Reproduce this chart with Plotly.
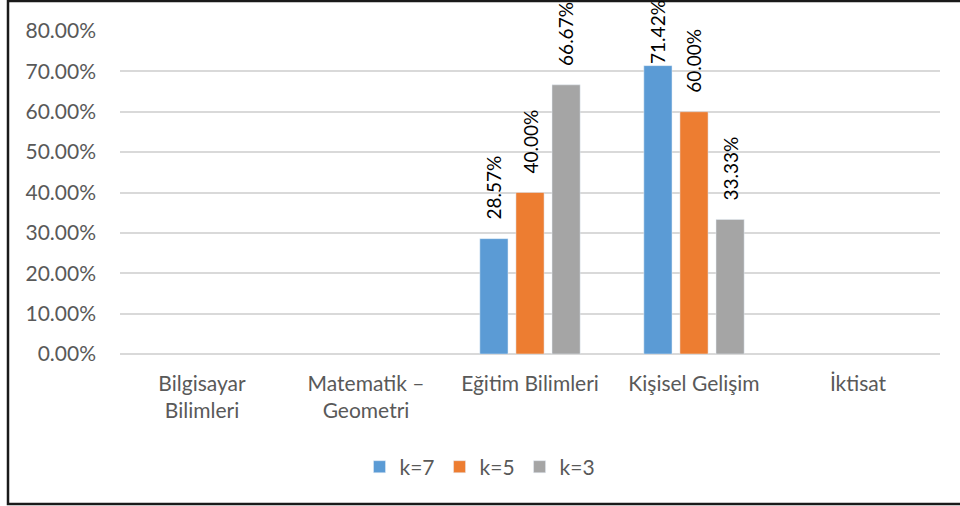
import plotly.graph_objects as go

categories = ["Bilgisayar<br>Bilimleri", "Matematik –<br>Geometri", "Eğitim Bilimleri", "Kişisel Gelişim", "İktisat"]
k7 = [None, None, 0.2857, 0.7142, None]
k5 = [None, None, 0.40, 0.60, None]
k3 = [None, None, 0.6667, 0.3333, None]
series_names = ["k=7", "k=5", "k=3"]
colors = ["#5B9BD5", "#ED7D31", "#A5A5A5"]
tick_vals = [0, 0.1, 0.2, 0.3, 0.4, 0.5, 0.6, 0.7, 0.8]

FONT = "Lato, 'Open Sans', sans-serif"
FS = 21
LFS = 19
W, H = 960, 506
L, R, T, B = 120, 20, 31, 152
pw, ph = W - L - R, H - T - B
YMAX = 0.8
BARGAP, GROUPGAP = 0.34, 0.22
cat_px = pw / len(categories)
slot_px = cat_px * (1 - BARGAP) / 3
label_len = 63  # approx rendered length of a rotated label in px
gap_px = 17

fig = go.Figure()
annotations = []
for i, (name, vals, c) in enumerate(zip(series_names, [k7, k5, k3], colors)):
    fig.add_trace(go.Bar(
        x=categories, y=vals, name=name, marker_color=c,
    ))
    for cat, v in zip(categories, vals):
        if v is None:
            continue
        bar_top = T + ph * (1 - v / YMAX)
        shift = gap_px
        if bar_top - shift - label_len < 3:
            shift = bar_top - label_len - 3
        annotations.append(dict(
            x=cat, y=v, xref="x", yref="y", text=f"{v*100:.2f}%",
            textangle=-90, showarrow=False, xanchor="center", yanchor="bottom",
            xshift=(i - 1) * slot_px, yshift=shift,
            font=dict(family=FONT, size=LFS, color="#000000"),
        ))

fig.update_layout(
    width=W, height=H,
    margin=dict(l=L, r=R, t=T, b=B),
    paper_bgcolor="white", plot_bgcolor="white",
    barmode="group", bargap=BARGAP, bargroupgap=GROUPGAP,
    font=dict(family=FONT, size=FS, color="#595959"),
    showlegend=True,
    legend=dict(orientation="h", x=(W / 2 - L) / pw, xanchor="center", y=-0.35, yanchor="middle",
                font=dict(family=FONT, size=FS, color="#595959"),
                itemwidth=30, traceorder="normal"),
    xaxis=dict(showgrid=False, showline=False, ticks="", ticklabelstandoff=15,
               tickfont=dict(size=FS, color="#595959")),
    yaxis=dict(range=[0, YMAX], tickvals=tick_vals, tickformat=".2%",
               showgrid=True, gridcolor="#D9D9D9", gridwidth=1.5,
               zeroline=True, zerolinecolor="#D9D9D9", zerolinewidth=1.5,
               showline=False, ticks="", ticklabelstandoff=23,
               tickfont=dict(size=FS, color="#595959")),
    annotations=annotations,
    shapes=[dict(type="rect", xref="paper", yref="paper",
                 x0=(8 - L) / pw, x1=(W + 60 - L) / pw,
                 y0=(H - B - 504) / ph, y1=(H - B - 1) / ph,
                 line=dict(color="#1a1a1a", width=2.5), fillcolor="rgba(0,0,0,0)", layer="above")],
)

fig.write_html("out.html")
